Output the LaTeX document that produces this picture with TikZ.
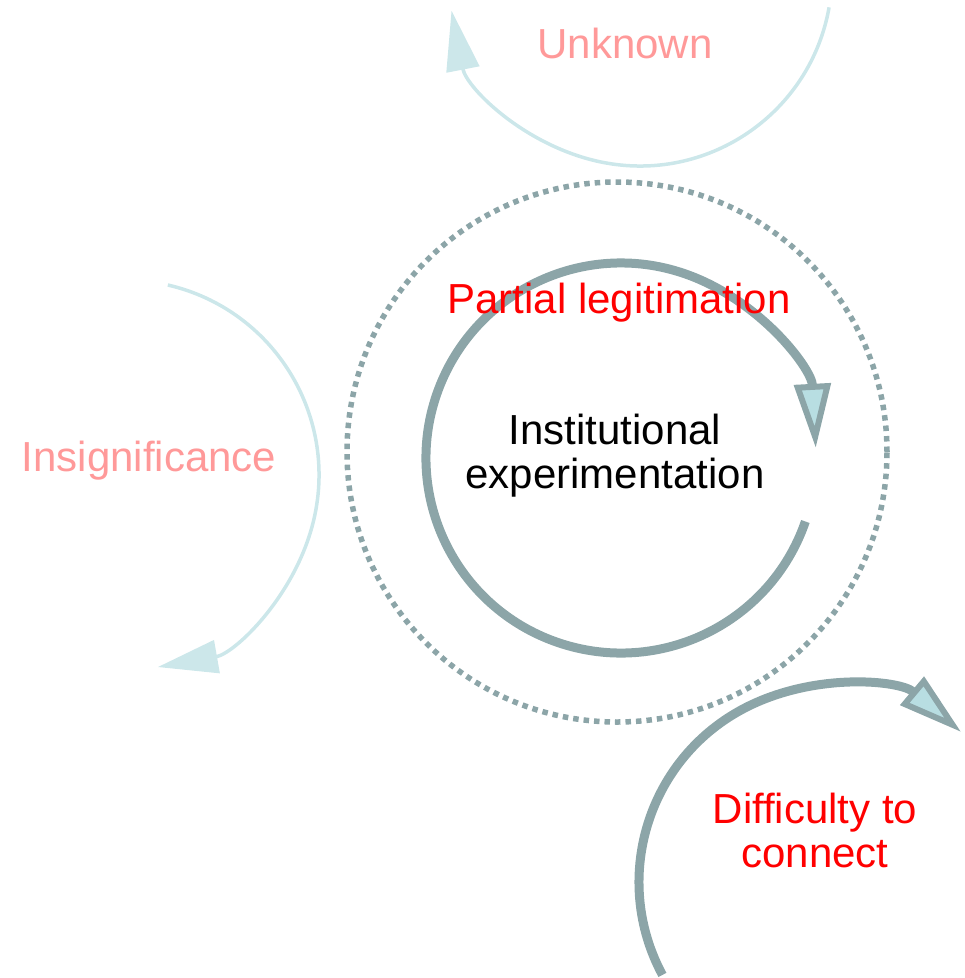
\documentclass[tikz,border=0pt]{standalone}
\usepackage{fontspec}
\setmainfont{Liberation Sans}
\usetikzlibrary{arrows.meta}
\definecolor{ringgray}{HTML}{8CA5A8}
\definecolor{tipfill}{HTML}{B8DEE2}
\definecolor{fadedarc}{HTML}{CCE7EA}
\definecolor{pinktext}{HTML}{FF9999}
\tikzset{
  % cycle strings
  ring/.style = {
    line width=9pt,
    draw=ringgray,
  },
  ring arrow/.style = {
    -{Triangle[length=64pt,width=36pt,line width=6pt,fill=tipfill]}
  },
  faded ring/.style = {
    line width=3.5pt,
    draw=fadedarc,
    -{Triangle[length=60pt,width=33pt,fill=fadedarc]}
  },
  dotted ring/.style = {
    line width=5.5pt,
    draw=ringgray,
    dash pattern=on 5.5pt off 5pt,
  },
  % cycle labels
  cycle text/.style = {
    font=\fontsize{42}{44}\selectfont,
    inner sep=0pt,
    anchor=base,
    align=center,
  },
  strong text/.style = {cycle text, text=red},
  faint text/.style = {cycle text, text=pinktext},
}

\begin{document}
\begin{tikzpicture}[x=1pt,y=1pt]
  \useasboundingbox (0,0) rectangle (965,-978);
  % centres of the cycles
  \coordinate (inner) at (621,-458);
  \coordinate (outer) at (617,-452);
  \coordinate (unknown) at (640,26);
  \coordinate (insign) at (124,-475);
  \coordinate (connect) at (835,-882);

  \draw[dotted ring] (outer) circle[radius=270];
  \draw[ring, ring arrow] ([shift={(-19:195)}]inner) arc[start angle=-19, end angle=-357, radius=195];
  \draw[ring, ring arrow] ([shift={(208.3:196)}]connect) arc[start angle=208.3, end angle=50, radius=196];
  \draw[faded ring] ([shift={(-10:192)}]unknown) arc[start angle=-10, end angle=-169, radius=192];
  \draw[faded ring] ([shift={(77:195)}]insign) arc[start angle=77, end angle=-80, radius=195];

  % the last line sits on the given point
  \node[faint text] (unknowntext) at (625,-58) {Unknown};
  \node[faint text] (insigntext) at (149,-471) {Insignificance};
  \node[strong text] (partialtext) at (619,-313) {Partial legitimation};
  \node[cycle text] (insttext) at (615,-488) {Institutional\\experimentation};
  \node[strong text] (connecttext) at (815,-867) {Difficulty to\\connect};
\end{tikzpicture}
\end{document}
